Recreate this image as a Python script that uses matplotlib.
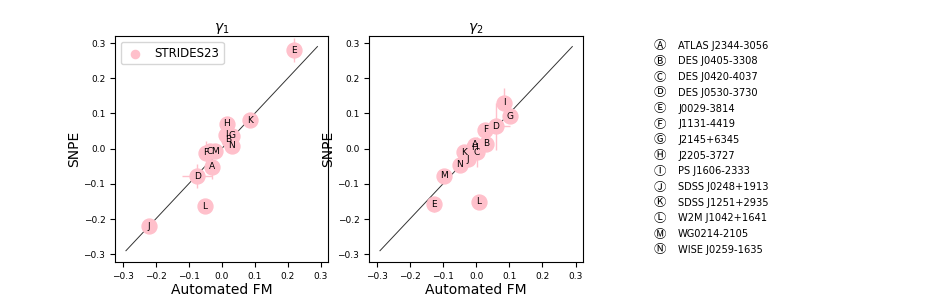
import numpy as np
import matplotlib
matplotlib.use("Agg")
import matplotlib.pyplot as plt

# lens systems, keyed A..N
letters = list("ABCDEFGHIJKLMN")
names = ["ATLAS J2344-3056", "DES J0405-3308", "DES J0420-4037", "DES J0530-3730",
         "J0029-3814", "J1131-4419", "J2145+6345", "J2205-3727", "PS J1606-2333",
         "SDSS J0248+1913", "SDSS J1251+2935", "W2M J1042+1641", "WG0214-2105",
         "WISE J0259-1635"]

# gamma_1: automated FM (x) vs SNPE (y)
g1_fm = [-0.028, 0.021, -0.036, -0.074, 0.219, -0.048, 0.031, 0.016, 0.014,
         -0.220, 0.085, -0.052, -0.020, 0.031]
g1_snpe = [-0.051, 0.025, -0.008, -0.078, 0.280, -0.012, 0.037, 0.071, 0.040,
           -0.220, 0.080, -0.163, -0.008, 0.008]
g1_fm_err = [0.010, 0.008, 0.010, 0.045, 0.010, 0.010, 0.008, 0.008, 0.008,
             0.010, 0.008, 0.008, 0.010, 0.008]
g1_snpe_err = [0.035, 0.010, 0.020, 0.035, 0.033, 0.035, 0.015, 0.020, 0.020,
               0.012, 0.010, 0.018, 0.015, 0.020]

# gamma_2
g2_fm = [-0.002, 0.031, 0.002, 0.059, -0.128, 0.028, 0.101, -0.005, 0.084,
         -0.025, -0.037, 0.008, -0.098, -0.050]
g2_snpe = [0.011, 0.014, -0.010, 0.064, -0.158, 0.053, 0.092, 0.004, 0.130,
           -0.030, -0.010, -0.151, -0.077, -0.046]
g2_fm_err = [0.008, 0.008, 0.010, 0.043, 0.008, 0.008, 0.010, 0.008, 0.008,
             0.008, 0.008, 0.008, 0.008, 0.008]
g2_snpe_err = [0.020, 0.010, 0.042, 0.067, 0.022, 0.020, 0.012, 0.015, 0.042,
               0.012, 0.010, 0.010, 0.010, 0.012]

circled = [chr(0x24B6 + i) for i in range(len(letters))]

fig = plt.figure(figsize=(9.3, 3), dpi=100)
ax1 = fig.add_axes([0.1237, 0.1267, 0.229, 0.7533])
ax2 = fig.add_axes([0.3968, 0.1267, 0.230, 0.7533])

panels = [(ax1, g1_fm, g1_snpe, g1_fm_err, g1_snpe_err, r'$\gamma_1$'),
          (ax2, g2_fm, g2_snpe, g2_fm_err, g2_snpe_err, r'$\gamma_2$')]

diag = np.array([-0.29, 0.29])
for i, (ax, x, y, xe, ye, title) in enumerate(panels):
    ax.errorbar(x, y, xerr=xe, yerr=ye, fmt='none', ecolor='pink', elinewidth=1, zorder=1)
    ax.scatter(x, y, s=115, color='pink', zorder=2, label='STRIDES23' if i == 0 else None)
    for lx, ly, l in zip(x, y, letters):
        ax.text(lx, ly, l, ha='center', va='center', fontsize=6.5, zorder=3)
    ax.plot(diag, diag, color='k', lw=0.7, alpha=0.8, zorder=1.5)
    ax.set_xlim(-0.323, 0.322)
    ax.set_ylim(-0.322, 0.32)
    ax.set_xticks([-0.3, -0.2, -0.1, 0.0, 0.1, 0.2, 0.3])
    ax.set_yticks([-0.3, -0.2, -0.1, 0.0, 0.1, 0.2, 0.3])
    ax.tick_params(labelsize=6.5)
    ax.set_xlabel('Automated FM', fontsize=10, labelpad=2)
    ax.set_ylabel('SNPE', fontsize=10, labelpad=2)
    ax.set_title(title, fontsize=10, pad=3)

ax1.legend(loc='upper left', fontsize=8.5, markerscale=0.55, handlelength=1.6)

for i, (c, n) in enumerate(zip(circled, names)):
    yy = 1 - (45.7 + i * 15.7) / 300
    fig.text(660 / 930, yy, c, ha='center', va='center', fontsize=9,
             family=['Noto Sans CJK JP', 'DejaVu Sans'])
    fig.text(678 / 930, yy, n, ha='left', va='center', fontsize=7.1)

fig.savefig('out.png', dpi=100)
